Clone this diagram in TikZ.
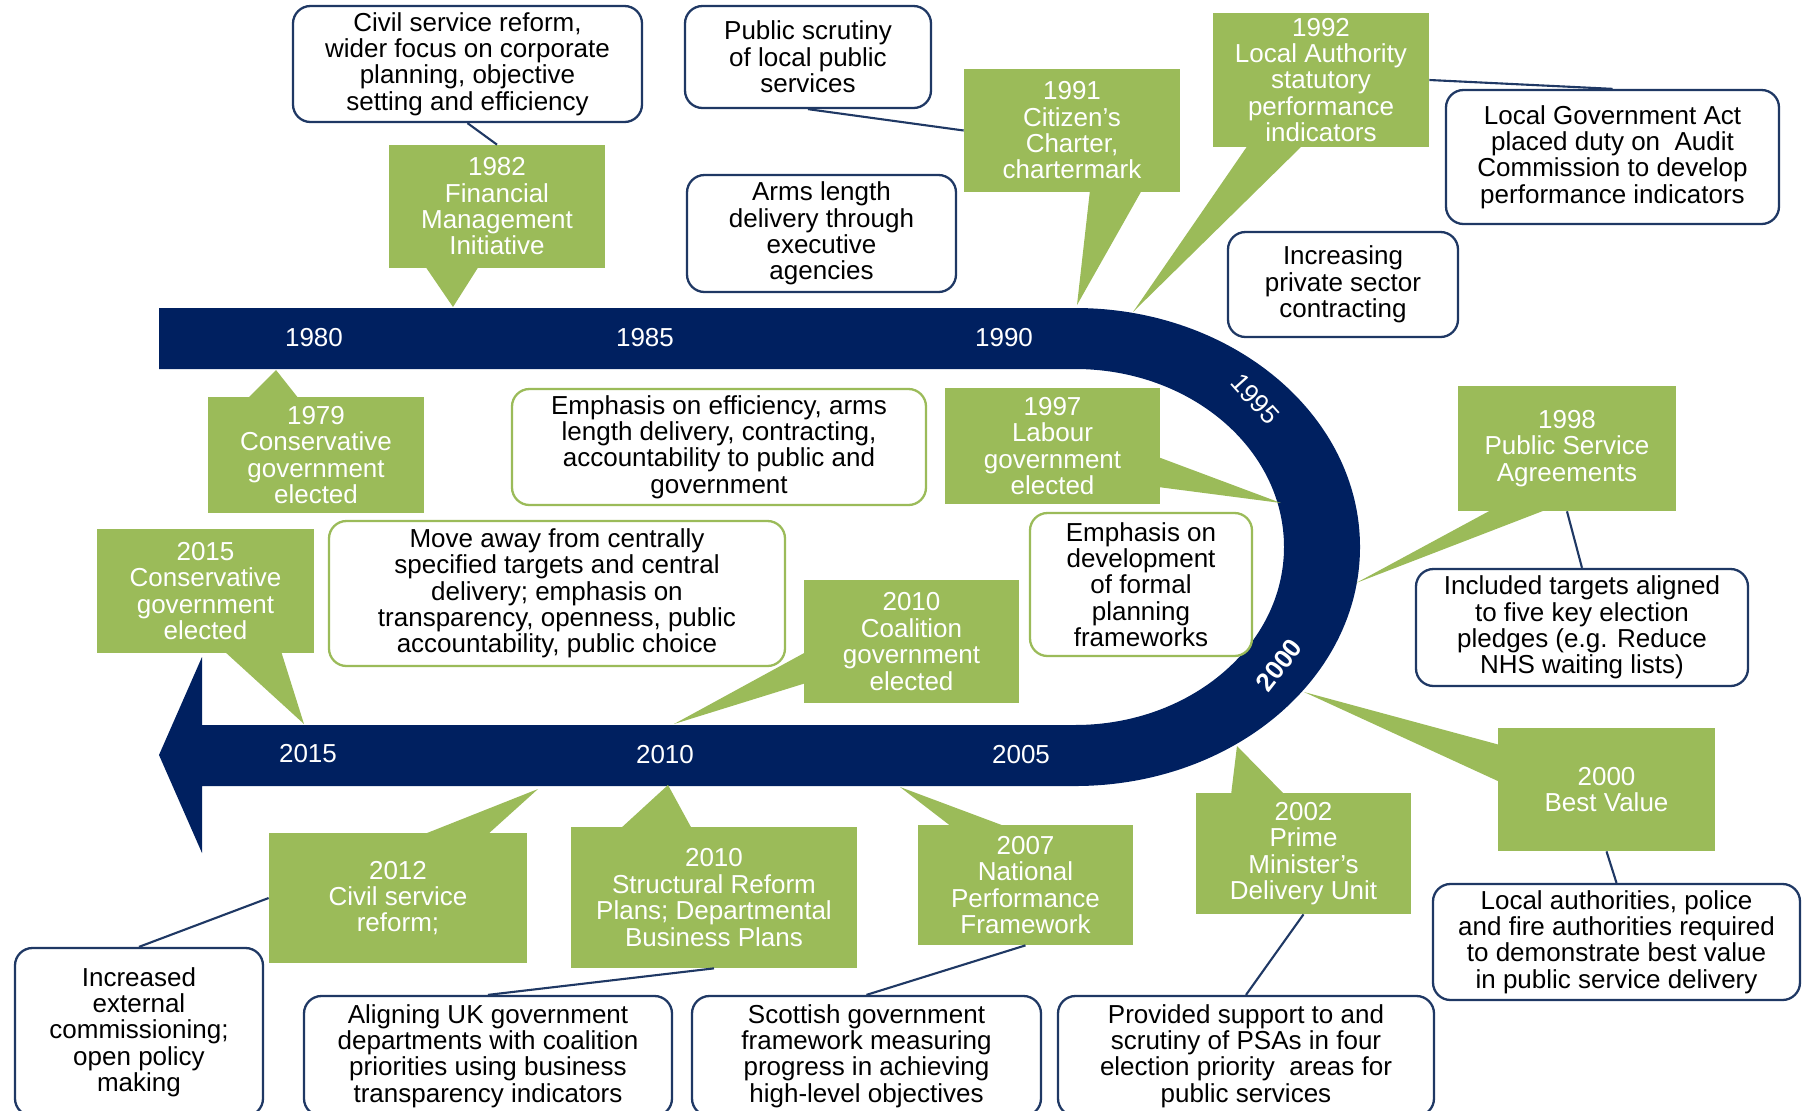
\documentclass[tikz,border=0pt]{standalone}
\usepackage{fontspec}
\setmainfont{Liberation Sans}
\definecolor{navyband}{HTML}{002060}
\definecolor{leafgreen}{HTML}{9BBB59}
\definecolor{boxnavy}{HTML}{1F3864}
\newcommand{\boxfont}{\fontsize{14.8}{15}\selectfont}

\begin{document}
\begin{tikzpicture}[x=0.2mm, y=-0.2mm,
  eventbox/.style={rectangle, fill=leafgreen, text=white, align=center, inner sep=0pt, font=\boxfont},
  notebox/.style={rectangle, rounded corners=0.35cm, draw=boxnavy, line width=1.3pt, fill=white, align=center, inner sep=0pt, font=\boxfont},
  greennote/.style={notebox, draw=leafgreen},
  linkline/.style={draw=boxnavy, line width=1.2pt},
  yearlbl/.style={text=white, font=\boxfont}]
\useasboundingbox (0,0) rectangle (1803,1111);

% timeline band
\fill[navyband] (159,308) -- (1075,308) arc[start angle=90, end angle=-90, x radius=5.7cm, y radius=4.78cm] -- (202,786) -- (202,853) -- (159,755) -- (202,657) -- (202,725) -- (1075,725) arc[start angle=-90, end angle=90, x radius=4.18cm, y radius=3.56cm] -- (159,369) -- cycle;

\node[yearlbl] (y1980) at (314,338) {1980};
\node[yearlbl] (y1985) at (645,338) {1985};
\node[yearlbl] (y1990) at (1004,338) {1990};
\node[yearlbl, rotate=-48] (y1995) at (1255,399) {1995};
\node[yearlbl, rotate=52, font=\boxfont\bfseries] (y2000) at (1279,665) {2000};
\node[yearlbl] (y2005) at (1021,755) {2005};
\node[yearlbl] (y2010) at (665,755) {2010};
\node[yearlbl] (y2015) at (308,754) {2015};

% callout pointers
\fill[leafgreen] (425,266) -- (453,307) -- (479,266) -- cycle;
\fill[leafgreen] (1090,190) -- (1077,305) -- (1142,190) -- cycle;
\fill[leafgreen] (1248,145) -- (1133,312) -- (1303,145) -- cycle;
\fill[leafgreen] (247,399) -- (276,370) -- (299,399) -- cycle;
\fill[leafgreen] (1158,457) -- (1281,503) -- (1158,487) -- cycle;
\fill[leafgreen] (1493,509) -- (1356,583) -- (1548,509) -- cycle;
\fill[leafgreen] (224,651) -- (304,724) -- (281,651) -- cycle;
\fill[leafgreen] (806,652) -- (674,724) -- (806,683) -- cycle;
\fill[leafgreen] (422,835) -- (538,789) -- (487,835) -- cycle;
\fill[leafgreen] (620,829) -- (668,785) -- (692,829) -- cycle;
\fill[leafgreen] (952,827) -- (900,787) -- (1007,827) -- cycle;
\fill[leafgreen] (1231,795) -- (1237,746) -- (1285,795) -- cycle;
\fill[leafgreen] (1500,745) -- (1304,692) -- (1500,782) -- cycle;

% events
\node[eventbox, minimum width=4.32cm, minimum height=2.46cm] (ev1982) at (497,206.5) {1982\\Financial\\Management\\Initiative};
\node[eventbox, minimum width=4.32cm, minimum height=2.46cm] (ev1991) at (1072,130.5) {1991\\Citizen’s\\Charter,\\chartermark};
\node[eventbox, minimum width=4.32cm, minimum height=2.68cm] (ev1992) at (1321,80) {1992\\Local Authority\\statutory\\performance\\indicators};
\node[eventbox, minimum width=4.32cm, minimum height=2.32cm] (ev1979) at (316,455) {1979\\Conservative\\government\\elected};
\node[eventbox, minimum width=4.3cm, minimum height=2.32cm] (ev1997) at (1052.5,446) {1997\\Labour\\government\\elected};
\node[eventbox, minimum width=4.36cm, minimum height=2.5cm] (ev1998) at (1567,448.5) {1998\\Public Service\\Agreements};
\node[eventbox, minimum width=4.34cm, minimum height=2.48cm] (ev2015) at (205.5,591) {2015\\Conservative\\government\\elected};
\node[eventbox, minimum width=4.3cm, minimum height=2.46cm] (ev2010c) at (911.5,641.5) {2010\\Coalition\\government\\elected};
\node[eventbox, minimum width=5.16cm, minimum height=2.6cm] (ev2012) at (398,898) {2012\\Civil service\\reform;};
\node[eventbox, minimum width=5.72cm, minimum height=2.82cm] (ev2010s) at (714,897.5) {2010\\Structural Reform\\Plans; Departmental\\Business Plans};
\node[eventbox, minimum width=4.3cm, minimum height=2.4cm] (ev2007) at (1025.5,885) {2007\\National\\Performance\\Framework};
\node[eventbox, minimum width=4.3cm, minimum height=2.42cm] (ev2002) at (1303.5,853.5) {2002\\Prime\\Minister’s\\Delivery Unit};
\node[eventbox, minimum width=4.34cm, minimum height=2.46cm] (ev2000) at (1606.5,789.5) {2000\\Best Value};

% notes
\node[notebox, minimum width=6.98cm, minimum height=2.32cm] (civil) at (467.5,64) {Civil service reform,\\wider focus on corporate\\planning, objective\\setting and efficiency};
\node[notebox, minimum width=4.92cm, minimum height=2.04cm] (scrutiny) at (808,57) {Public scrutiny\\of local public\\services};
\node[notebox, minimum width=5.38cm, minimum height=2.34cm] (arms) at (821.5,233.5) {Arms length\\delivery through\\executive\\agencies};
\node[notebox, minimum width=6.66cm, minimum height=2.68cm] (lga) at (1612.5,157) {Local Government Act\\placed duty on\ \ Audit\\Commission to develop\\performance indicators};
\node[notebox, minimum width=4.6cm, minimum height=2.1cm] (private) at (1343,284.5) {Increasing\\private sector\\contracting};
\node[greennote, minimum width=8.28cm, minimum height=2.32cm] (effic) at (719,447) {Emphasis on efficiency, arms\\length delivery, contracting,\\accountability to public and\\government};
\node[greennote, minimum width=9.12cm, minimum height=2.9cm] (moveaway) at (557,593.5) {Move away from centrally\\specified targets and central\\delivery; emphasis on\\transparency, openness, public\\accountability, public choice};
\node[greennote, minimum width=4.44cm, minimum height=2.86cm] (frames) at (1141,584.5) {Emphasis on\\development\\of formal\\planning\\frameworks};
\node[notebox, minimum width=6.64cm, minimum height=2.34cm] (pledges) at (1582,627.5) {Included targets aligned\\to five key election\\pledges (e.g. Reduce\\NHS waiting lists)};
\node[notebox, minimum width=7.34cm, minimum height=2.32cm] (bestval) at (1616.5,942) {Local authorities, police\\and fire authorities required\\to demonstrate best value\\in public service delivery};
\node[notebox, minimum width=4.96cm, minimum height=3.36cm] (external) at (139,1032) {Increased\\external\\commissioning;\\open policy\\making};
\node[notebox, minimum width=7.36cm, minimum height=2.4cm] (aligning) at (488,1056) {Aligning UK government\\departments with coalition\\priorities using business\\transparency indicators};
\node[notebox, minimum width=6.98cm, minimum height=2.4cm] (scottish) at (866.5,1056) {Scottish government\\framework measuring\\progress in achieving\\high-level objectives};
\node[notebox, minimum width=7.52cm, minimum height=2.4cm] (support) at (1246,1056) {Provided support to and\\scrutiny of PSAs in four\\election priority\ \ areas for\\public services};

% links
\draw[linkline] (civil.south) -- (ev1982.north);
\draw[linkline] (scrutiny.south) -- (ev1991.west);
\draw[linkline] (ev1992.east) -- (lga.north);
\draw[linkline] (ev1998.south) -- (pledges.north);
\draw[linkline] (ev2000.south) -- (bestval.north);
\draw[linkline] (ev2012.west) -- (external.north);
\draw[linkline] (ev2010s.south) -- (aligning.north);
\draw[linkline] (ev2007.south) -- (scottish.north);
\draw[linkline] (ev2002.south) -- (support.north);
\end{tikzpicture}
\end{document}
